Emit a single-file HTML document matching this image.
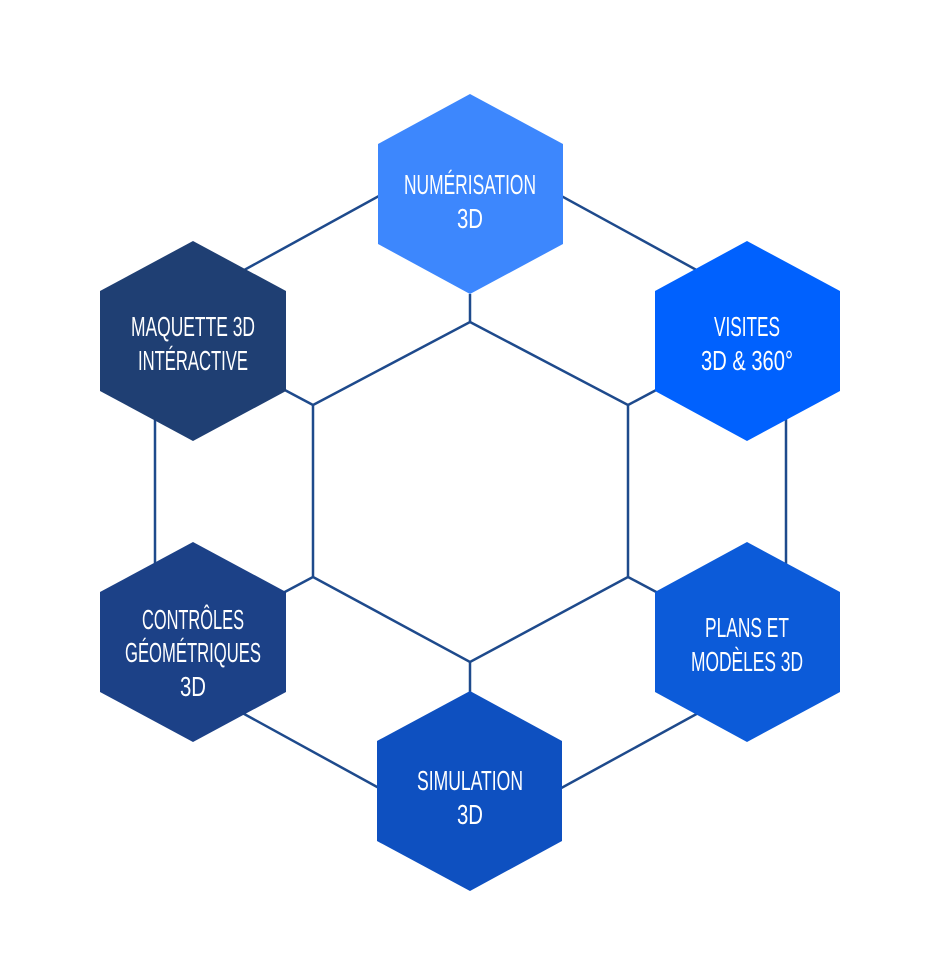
<!DOCTYPE html>
<html><head><meta charset="utf-8"><style>
html,body{margin:0;padding:0;background:#fff;}
svg{display:block}
text{font-family:"Liberation Sans Narrow","Liberation Sans",sans-serif;font-size:28px;fill:#fff;text-anchor:middle}
</style></head><body>
<svg width="936" height="953" viewBox="0 0 936 953">
<g stroke="#1e4a8c" stroke-width="2.5" fill="none">
<polygon points="470,146 786,319 786,665 470,838 155,665 155,319"/>
<polygon points="470,322 628,405 628,577 470,662 313,577 313,405"/>
<line x1="470" y1="322" x2="470" y2="294"/>
<line x1="628" y1="405" x2="660" y2="388"/>
<line x1="313" y1="405" x2="281" y2="388"/>
<line x1="628" y1="577" x2="660" y2="594"/>
<line x1="313" y1="577" x2="281" y2="594"/>
<line x1="470" y1="662" x2="470" y2="692"/>
</g>
<g>
<polygon fill="#3d87fd" points="470,94 563,144 563,244 470,294 378,244 378,144"/>
<polygon fill="#0061fe" points="747,241 840,291 840,391 747,441 655,391 655,291"/>
<polygon fill="#1f3f73" points="193,241 286,291 286,391 193,441 100,391 100,291"/>
<polygon fill="#1c4187" points="193,542 286,592 286,692 193,742 100,692 100,592"/>
<polygon fill="#0c5bd9" points="747,542 840,592 840,692 747,742 655,692 655,592"/>
<polygon fill="#0e50c0" points="470,691 562,741 562,841 470,891 377,841 377,741"/>
</g>
<text x="470" y="194" textLength="132" lengthAdjust="spacingAndGlyphs">NUMÉRISATION</text>
<text x="470" y="228" textLength="26" lengthAdjust="spacingAndGlyphs">3D</text>
<text x="747" y="336" textLength="66" lengthAdjust="spacingAndGlyphs">VISITES</text>
<text x="747" y="370" textLength="92" lengthAdjust="spacingAndGlyphs">3D &amp; 360°</text>
<text x="193" y="336" textLength="124" lengthAdjust="spacingAndGlyphs">MAQUETTE 3D</text>
<text x="193" y="370" textLength="110" lengthAdjust="spacingAndGlyphs">INTÉRACTIVE</text>
<text x="193" y="629" textLength="102" lengthAdjust="spacingAndGlyphs">CONTRÔLES</text>
<text x="193" y="662" textLength="136" lengthAdjust="spacingAndGlyphs">GÉOMÉTRIQUES</text>
<text x="193" y="696" textLength="26" lengthAdjust="spacingAndGlyphs">3D</text>
<text x="747" y="637" textLength="84" lengthAdjust="spacingAndGlyphs">PLANS ET</text>
<text x="747" y="671" textLength="112" lengthAdjust="spacingAndGlyphs">MODÈLES 3D</text>
<text x="470" y="790" textLength="106" lengthAdjust="spacingAndGlyphs">SIMULATION</text>
<text x="470" y="824" textLength="26" lengthAdjust="spacingAndGlyphs">3D</text>
</svg>
</body></html>
